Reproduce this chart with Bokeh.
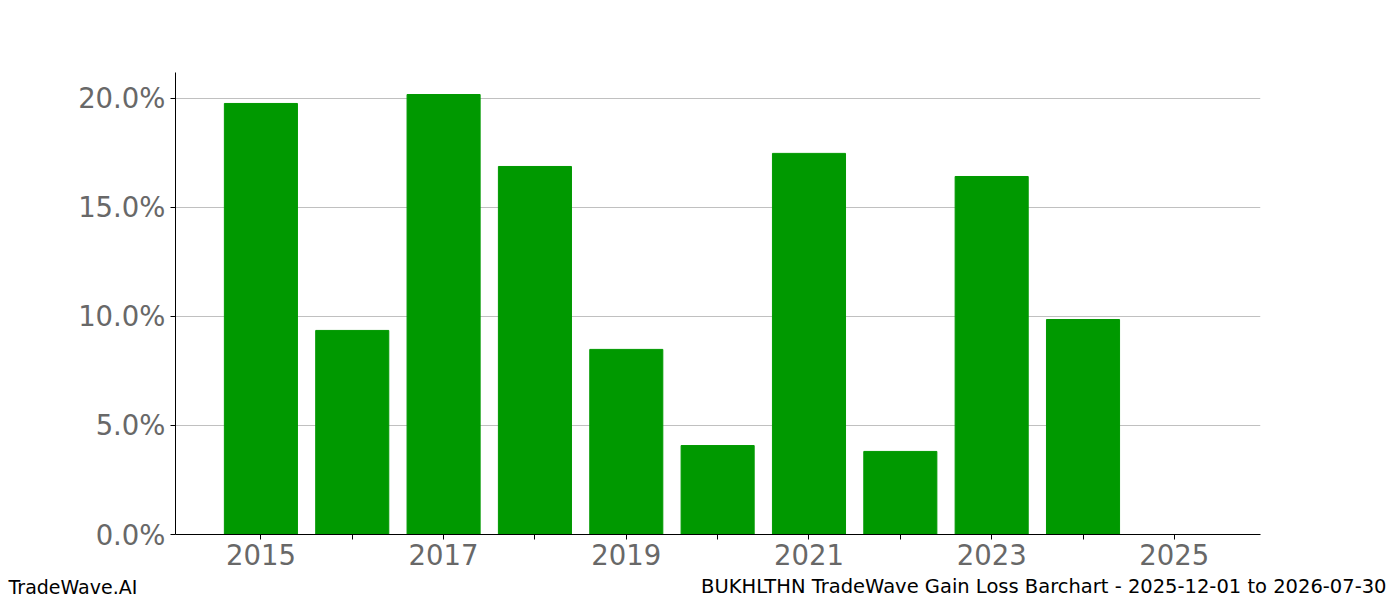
import numpy as np
from bokeh.plotting import figure
from bokeh.layouts import column
from bokeh.models import FixedTicker, NumeralTickFormatter, Label, Range1d
from bokeh.embed import file_html
from bokeh.resources import INLINE

# gain/loss per year, in percent
years = [2015, 2016, 2017, 2018, 2019, 2020, 2021, 2022, 2023, 2024, 2025]
gains = [19.77, 9.36, 20.18, 16.88, 8.49, 4.08, 17.48, 3.81, 16.42, 9.86, 0.0]
y_ticks = [0.0, 5.0, 10.0, 15.0, 20.0]
labelled_years = [2015, 2017, 2019, 2021, 2023, 2025]

footer_left = "TradeWave.AI"
footer_right = "BUKHLTHN TradeWave Gain Loss Barchart - 2025-12-01 to 2026-07-30"

FONT = "DejaVu Sans"
TICK_GREY = "#686868"

W, H = 1400, 600
FOOT_H = 24
LEFT, RIGHT, TOP, BOTTOM = 175, 140, 72, 66 - FOOT_H
X0, X1 = 2014.065, 2025.943
Y0, Y1 = 0.0, 0.2119

p = figure(width=W, height=H - FOOT_H, output_backend="svg", toolbar_location=None,
           x_range=Range1d(X0, X1), y_range=Range1d(Y0, Y1),
           min_border_left=LEFT, min_border_right=RIGHT,
           min_border_top=TOP, min_border_bottom=BOTTOM)
p.frame_align = False
p.outline_line_color = None
p.background_fill_color = "white"
p.border_fill_color = "white"

p.vbar(x=years, top=np.array(gains) / 100.0, width=0.8, color="#009900")

# axes
p.xaxis.ticker = FixedTicker(ticks=years)
p.xaxis.major_label_overrides = {y: (str(y) if y in labelled_years else "") for y in years}
p.yaxis.ticker = FixedTicker(ticks=[t / 100.0 for t in y_ticks])
p.yaxis.formatter = NumeralTickFormatter(format="0.0%")
for ax in (p.xaxis, p.yaxis):
    ax.major_label_text_font = FONT
    ax.major_label_text_font_size = "27.5px"
    ax.major_label_text_color = TICK_GREY
    ax.axis_line_color = "black"
    ax.axis_line_width = 1
    ax.major_tick_line_color = "black"
    ax.major_tick_out = 5
    ax.major_tick_in = 0
    ax.minor_tick_line_color = None
p.xaxis.major_label_standoff = 4
p.yaxis.major_label_standoff = 5

p.xgrid.grid_line_color = None
p.ygrid.grid_line_color = "#c0c0c0"
p.ygrid.grid_line_width = 1

# footer strip: a bare figure whose frame covers the whole strip
foot = figure(width=W, height=FOOT_H, output_backend="svg", toolbar_location=None,
              x_axis_type=None, y_axis_type=None,
              min_border=0, min_border_left=0, min_border_right=0,
              min_border_top=0, min_border_bottom=0)
foot.frame_align = False
foot.outline_line_color = None
foot.xgrid.grid_line_color = None
foot.ygrid.grid_line_color = None
foot.add_layout(Label(x=8, y=14, x_units="screen", y_units="screen",
                      text=footer_left, text_font=FONT, text_font_size="19px",
                      text_color="black", text_align="left", text_baseline="alphabetic"))
foot.add_layout(Label(x=W - 14, y=14, x_units="screen", y_units="screen",
                      text=footer_right, text_font=FONT, text_font_size="19.5px",
                      text_color="black", text_align="right", text_baseline="alphabetic"))

layout = column(p, foot, spacing=0)
open("out.html", "w").write(file_html(layout, INLINE))
